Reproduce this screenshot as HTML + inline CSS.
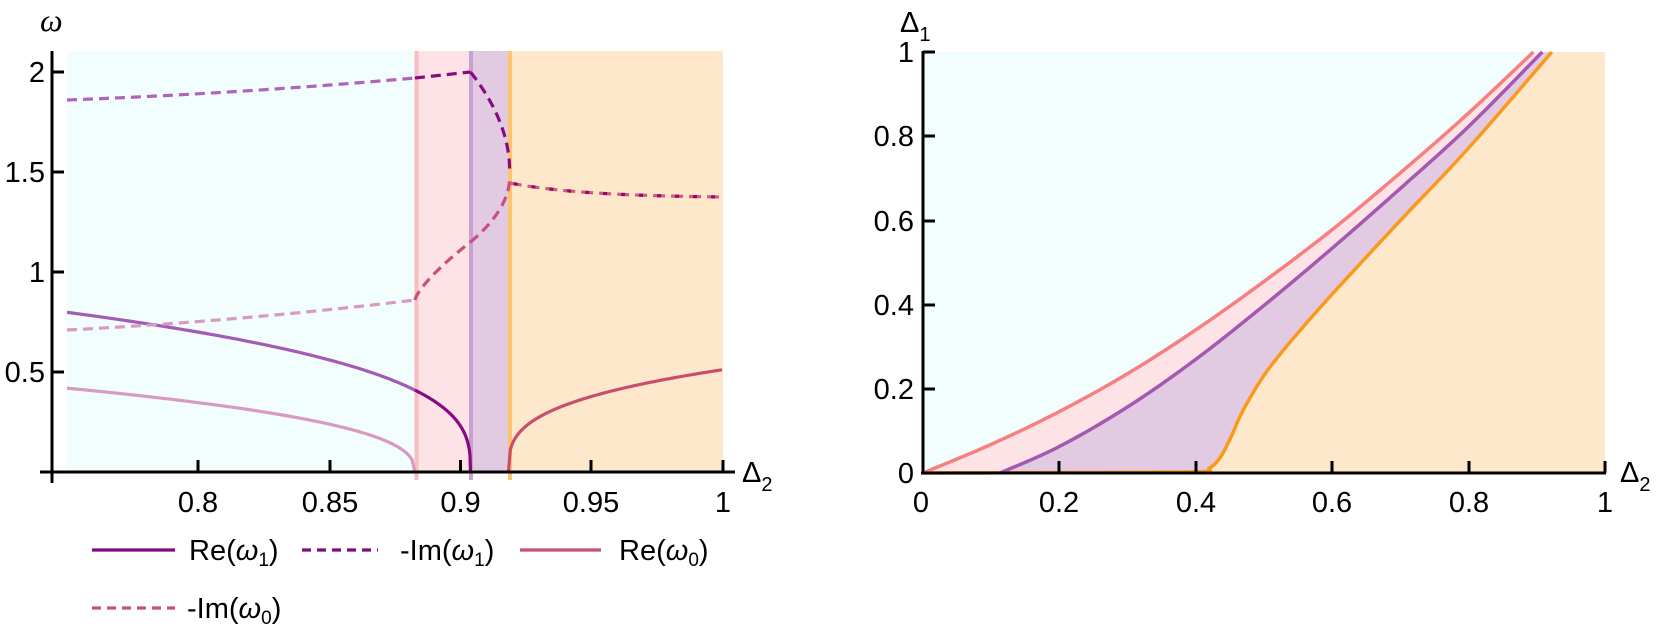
<!DOCTYPE html>
<html><head><meta charset="utf-8">
<style>
html,body{margin:0;padding:0;background:#fff;}
svg{display:block;font-family:"Liberation Sans",sans-serif;}
text{font-size:29px;fill:#000;}
</style></head>
<body>
<svg id="s" width="1661" height="641" viewBox="0 0 1661 641" xmlns="http://www.w3.org/2000/svg">
<rect x="67" y="51" width="349" height="421" fill="#f2fdfe"/>
<rect x="416" y="51" width="55" height="421" fill="#fde3e6"/>
<rect x="471" y="51" width="39" height="421" fill="#e2cbe2"/>
<rect x="510" y="51" width="213" height="421" fill="#fde8cb"/>
<line x1="416.5" y1="51" x2="416.5" y2="480" stroke="#fbbcc0" stroke-width="4"/>
<line x1="471" y1="51" x2="471" y2="480" stroke="#c8a0d2" stroke-width="4"/>
<line x1="510" y1="51" x2="510" y2="480" stroke="#fcc46c" stroke-width="4"/>
<g id="left" fill="none" stroke-width="3.2"></g>
<line x1="52" y1="51" x2="52" y2="483" stroke="#000" stroke-width="3"/>
<line x1="40" y1="472" x2="735" y2="472" stroke="#000" stroke-width="3"/>
<g stroke="#000" stroke-width="3">
<line x1="52" y1="72" x2="64" y2="72"/><line x1="52" y1="172" x2="64" y2="172"/>
<line x1="52" y1="272" x2="64" y2="272"/><line x1="52" y1="372" x2="64" y2="372"/>
<line x1="198" y1="472" x2="198" y2="460"/><line x1="330" y1="472" x2="330" y2="460"/>
<line x1="460.5" y1="472" x2="460.5" y2="460"/><line x1="591" y1="472" x2="591" y2="460"/>
<line x1="723" y1="472" x2="723" y2="460"/>
</g>
<g text-anchor="end">
<text x="45" y="82">2</text><text x="45" y="182">1.5</text><text x="45" y="282">1</text><text x="45" y="382">0.5</text>
</g>
<g text-anchor="middle">
<text x="198" y="512">0.8</text><text x="330" y="512">0.85</text><text x="460.5" y="512">0.9</text>
<text x="591" y="512">0.95</text><text x="723" y="512">1</text>
</g>
<text x="40" y="31" font-style="italic" font-family="Liberation Serif" style="font-size:32px">ω</text>
<text x="742" y="482">Δ<tspan style="font-size:20px" dy="9">2</tspan></text>
<line x1="92" y1="550" x2="175" y2="550" stroke="#800a7d" stroke-width="3.2"/>
<text x="189" y="560">Re(<tspan font-style="italic">ω</tspan><tspan style="font-size:19px" dy="6">1</tspan><tspan dy="-6">)</tspan></text>
<line x1="302" y1="550" x2="378" y2="550" stroke="#800a7d" stroke-width="3.2" stroke-dasharray="9,6"/>
<text x="400" y="560">-Im(<tspan font-style="italic">ω</tspan><tspan style="font-size:19px" dy="6">1</tspan><tspan dy="-6">)</tspan></text>
<line x1="520" y1="550" x2="601" y2="550" stroke="#c8507a" stroke-width="3.2"/>
<text x="619" y="560">Re(<tspan font-style="italic">ω</tspan><tspan style="font-size:19px" dy="6">0</tspan><tspan dy="-6">)</tspan></text>
<line x1="92" y1="608" x2="175" y2="608" stroke="#c8507a" stroke-width="3.2" stroke-dasharray="9,6"/>
<text x="187" y="618">-Im(<tspan font-style="italic">ω</tspan><tspan style="font-size:19px" dy="6">0</tspan><tspan dy="-6">)</tspan></text>

<g id="right"></g>
<line x1="923" y1="51" x2="923" y2="474" stroke="#000" stroke-width="3"/>
<line x1="921" y1="473" x2="1606" y2="473" stroke="#000" stroke-width="3"/>
<g stroke="#000" stroke-width="3">
<line x1="923" y1="52" x2="935" y2="52"/><line x1="923" y1="136" x2="935" y2="136"/>
<line x1="923" y1="221" x2="935" y2="221"/><line x1="923" y1="305" x2="935" y2="305"/>
<line x1="923" y1="389" x2="935" y2="389"/>
<line x1="1059" y1="473" x2="1059" y2="461"/><line x1="1196" y1="473" x2="1196" y2="461"/>
<line x1="1332" y1="473" x2="1332" y2="461"/><line x1="1469" y1="473" x2="1469" y2="461"/>
<line x1="1605" y1="473" x2="1605" y2="461"/>
</g>
<g text-anchor="end">
<text x="914" y="62">1</text><text x="914" y="146">0.8</text><text x="914" y="231">0.6</text>
<text x="914" y="315">0.4</text><text x="914" y="399">0.2</text><text x="914" y="483">0</text>
</g>
<g text-anchor="middle">
<text x="921" y="512">0</text><text x="1059" y="512">0.2</text><text x="1196" y="512">0.4</text>
<text x="1332" y="512">0.6</text><text x="1469" y="512">0.8</text><text x="1605" y="512">1</text>
</g>
<text x="900" y="32">Δ<tspan style="font-size:20px" dy="9">1</tspan></text>
<text x="1620" y="482">Δ<tspan style="font-size:20px" dy="9">2</tspan></text>
</svg>
<script>
var NS="http://www.w3.org/2000/svg";
function X(d){return 67+(d-0.75)*2620;}
function Y(w){return 472-200*w;}
function path(g,f,a,b,col,dash,n){n=n||80;var p="";for(var i=0;i<=n;i++){var d=a+(b-a)*i/n;var w=f(d);p+=(i?"L":"M")+X(d).toFixed(2)+","+Y(w).toFixed(2);}
var e=document.createElementNS(NS,"path");e.setAttribute("d",p);e.setAttribute("stroke",col);e.setAttribute("fill","none");e.setAttribute("stroke-width","3.2");if(dash)e.setAttribute("stroke-dasharray",dash);g.appendChild(e);return e;}
var L=document.getElementById("left");
var p1=0.8828,p2=0.904,p3=0.919;
var re1=function(d){return 1.5*Math.pow(Math.max(p2-d,0),0.337);};
path(L,re1,0.75,p1,"#a35bb3");
path(L,re1,p1,p2,"#880a80",null,120);
var re0=function(d){return 0.94*Math.pow(Math.max(p1-d,0),0.4);};
path(L,re0,0.75,p1,"#d89ac0",null,120);
path(L,function(d){return 1.14*Math.pow(Math.max(d-0.9185,0),0.32);},0.9185,1.0,"#c84e6e",null,120);
var D="10,6";
path(L,function(d){var t=(d-0.75)/(p1-0.75);return 1.86+0.11*(0.6*t+0.4*t*t);},0.75,p1,"#b064b8",D);
path(L,function(d){var t=(d-p1)/(p2-p1);return 1.97+0.03*t;},p1,p2,"#880a80",D);
path(L,function(d){return 1.5+0.5*Math.sqrt(Math.max(p3-d,0)/0.015);},p2,p3,"#880a80",D);
path(L,function(d){var t=(d-0.75)/(p1-0.75);return 0.71+0.15*(0.6*t+0.4*t*t);},0.75,p1,"#d89ac0",D);
path(L,function(d){var t=(d-p1)/(p2-p1);return 0.86+0.29*Math.pow(t,0.75);},p1,p2,"#c8507e",D);
path(L,function(d){return 1.48-0.33*Math.sqrt(Math.max(p3-d,0)/0.015);},p2,p3,"#c8507e",D);
path(L,function(d){return 1.37+0.075*Math.exp(-(d-p3)/0.03);},p3,1.0,"#d45a78","12,6");
var e=path(L,function(d){return 1.37+0.075*Math.exp(-(d-p3)/0.03);},p3,1.0,"#8a0a78","4,14");e.setAttribute("stroke-dashoffset","-4");

function RX(a){return 923+682*a;}function RY(b){return 473-421*b;}
function interp(pts,n){var out=[];for(var i=0;i<pts.length-1;i++){var a=pts[i],b=pts[i+1];for(var k=0;k<n;k++){var t=k/n;
var p0=pts[Math.max(i-1,0)],p3=pts[Math.min(i+2,pts.length-1)];var t2=t*t,t3=t2*t;
var x=0.5*((2*a[0])+(-p0[0]+b[0])*t+(2*p0[0]-5*a[0]+4*b[0]-p3[0])*t2+(-p0[0]+3*a[0]-3*b[0]+p3[0])*t3);
var y=0.5*((2*a[1])+(-p0[1]+b[1])*t+(2*p0[1]-5*a[1]+4*b[1]-p3[1])*t2+(-p0[1]+3*a[1]-3*b[1]+p3[1])*t3);out.push([x,y]);}}
out.push(pts[pts.length-1]);return out;}
var pink=interp([[0,0],[0.1,0.068],[0.2,0.146],[0.3,0.236],[0.4,0.34],[0.5,0.455],[0.6,0.578],[0.7,0.713],[0.8,0.855],[0.895,1.0]],10);
var purp=interp([[0.113,0],[0.2,0.063],[0.3,0.157],[0.4,0.27],[0.5,0.398],[0.6,0.534],[0.7,0.676],[0.8,0.823],[0.908,1.0]],10);
var oran=interp([[0,0],[0.2,0.001],[0.4,0.003],[0.42,0.012],[0.435,0.035],[0.45,0.08],[0.465,0.135],[0.48,0.18],[0.5,0.232],[0.525,0.285],[0.55,0.333],[0.6,0.425],[0.7,0.6],[0.8,0.772],[0.922,1.0]],8);
function toStr(pts){return pts.map(function(p,i){return (i?"L":"M")+RX(p[0]).toFixed(2)+","+RY(p[1]).toFixed(2);}).join("");}
var R=document.getElementById("right");
function addP(d,fill,stroke,sw){var e=document.createElementNS(NS,"path");e.setAttribute("d",d);e.setAttribute("fill",fill||"none");if(stroke){e.setAttribute("stroke",stroke);e.setAttribute("stroke-width",sw);e.setAttribute("stroke-linejoin","round");}R.appendChild(e);}
addP("M"+RX(0)+","+RY(1)+"L"+RX(1)+","+RY(1)+"L"+RX(1)+","+RY(0)+"L"+RX(0)+","+RY(0)+"Z","#f2fdfe");
addP(toStr(pink)+"L"+RX(1)+","+RY(1)+"L"+RX(1)+","+RY(0)+"Z","#fde3e6");
addP("M"+RX(0)+","+RY(0)+"L"+toStr(purp).slice(1)+"L"+RX(1)+","+RY(1)+"L"+RX(1)+","+RY(0)+"Z","#e2cbe2");
addP(toStr(oran)+"L"+RX(1)+","+RY(1)+"L"+RX(1)+","+RY(0)+"Z","#fde8cb");
addP(toStr(oran),null,"#f99a1c",3.5);
addP(toStr(purp),null,"#a558b0",3.5);
addP(toStr(pink),null,"#f77f80",3.5);
</script>
</body></html>
